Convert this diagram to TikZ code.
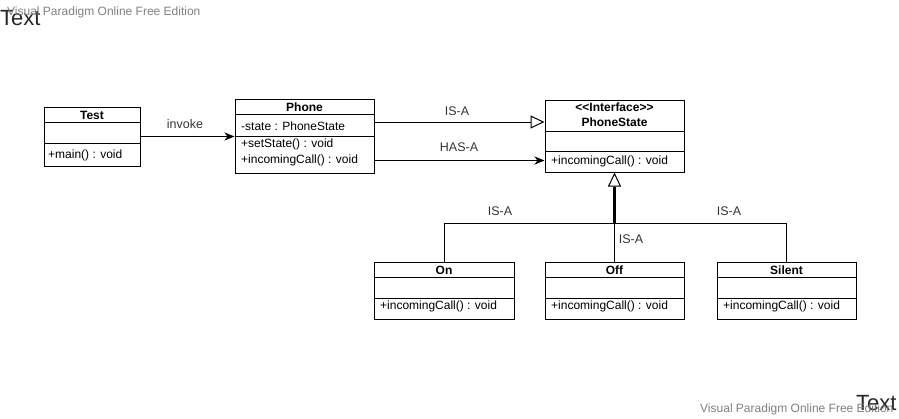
\documentclass[tikz,border=0pt]{standalone}
\usepackage{fontspec}
\setmainfont{Liberation Sans}
\usetikzlibrary{arrows.meta,positioning}
\tikzset{
  cls/.style={draw,line width=1pt,inner sep=0pt},
  sep/.style={line width=1pt},
  ttl/.style={font=\fontsize{12}{14}\selectfont\bfseries,inner sep=0pt},
  mem/.style={font=\fontsize{12}{14}\selectfont,inner sep=0pt,anchor=west},
  lbl/.style={font=\fontsize{12.5}{14}\selectfont,text=black!80,inner sep=0pt},
  wm/.style={font=\fontsize{12}{14}\selectfont,text=black!50,inner sep=0pt,anchor=west},
  bigtxt/.style={font=\fontsize{22}{26}\selectfont,text=black!85,inner sep=0pt,anchor=west},
  edge/.style={line width=1pt},
  isa/.style={-{Triangle[open,length=14pt,width=13pt,fill=white]},line width=1pt},
  hasa/.style={-{Stealth[length=10pt,width=8pt,inset=3pt]},line width=1pt},
}
\begin{document}
\begin{tikzpicture}[x=1pt,y=-1pt]
\useasboundingbox (0,0) rectangle (899,418);

% corner texts
\node[bigtxt] (txttop) at (0,18) {Text};
\node[wm] (wmtop) at (7,12) {Visual Paradigm Online Free Edition};
\node[bigtxt] (txtbot) at (856,403) {Text};
\node[wm] (wmbot) at (700,409) {Visual Paradigm Online Free Edition};

% Test
\node[cls,minimum width=96pt,minimum height=59pt] (test) at (92,136.5) {};
\draw[sep] ([yshift=-16pt]test.north west) -- ([yshift=-16pt]test.north east);
\draw[sep] ([yshift=-37pt]test.north west) -- ([yshift=-37pt]test.north east);
\node[ttl] (testname) at (92,115) {Test};
\node[mem] (testmain) at (48,155) {+main() : void};

% Phone
\node[cls,minimum width=139pt,minimum height=74pt] (phone) at (304.5,136) {};
\draw[sep] ([yshift=-16pt]phone.north west) -- ([yshift=-16pt]phone.north east);
\draw[sep] ([yshift=-38pt]phone.north west) -- ([yshift=-38pt]phone.north east);
\node[ttl] (phname) at (304.5,107) {Phone};
\node[mem] (phstate) at (241,126.5) {-state : PhoneState};
\node[mem] (phset) at (241,144) {+setState() : void};
\node[mem] (phcall) at (241,160.5) {+incomingCall() : void};

% PhoneState
\node[cls,minimum width=139pt,minimum height=72pt] (ps) at (614.5,136) {};
\draw[sep] ([yshift=-32pt]ps.north west) -- ([yshift=-32pt]ps.north east);
\draw[sep] ([yshift=-52pt]ps.north west) -- ([yshift=-52pt]ps.north east);
\node[ttl] (psstereo) at (614.5,107) {<\kern0pt<Interface>\kern0pt>};
\node[ttl] (psname) at (614.5,122) {PhoneState};
\node[mem] (pscall) at (551,161) {+incomingCall() : void};

% On
\node[cls,minimum width=140pt,minimum height=57pt] (on) at (444,290.5) {};
\draw[sep] ([yshift=-16pt]on.north west) -- ([yshift=-16pt]on.north east);
\draw[sep] ([yshift=-37pt]on.north west) -- ([yshift=-37pt]on.north east);
\node[ttl] (onname) at (444,270) {On};
\node[mem] (oncall) at (380,306.5) {+incomingCall() : void};

% Off
\node[cls,minimum width=139pt,minimum height=57pt] (off) at (614.5,290.5) {};
\draw[sep] ([yshift=-16pt]off.north west) -- ([yshift=-16pt]off.north east);
\draw[sep] ([yshift=-37pt]off.north west) -- ([yshift=-37pt]off.north east);
\node[ttl] (offname) at (614.5,270) {Off};
\node[mem] (offcall) at (551,306.5) {+incomingCall() : void};

% Silent
\node[cls,minimum width=139pt,minimum height=57pt] (silent) at (786.5,290.5) {};
\draw[sep] ([yshift=-16pt]silent.north west) -- ([yshift=-16pt]silent.north east);
\draw[sep] ([yshift=-37pt]silent.north west) -- ([yshift=-37pt]silent.north east);
\node[ttl] (silname) at (786.5,270) {Silent};
\node[mem] (silcall) at (723,306.5) {+incomingCall() : void};

% connectors
\draw[hasa] (test.east) -- (test.east -| phone.west);
\node[lbl] (invokelbl) at (185,124) {invoke};

\draw[isa] (phone.east |- psname) -- (ps.west |- psname);
\node[lbl] (isalbl) at (457,111) {IS-A};
\draw[hasa] (phone.east |- phcall) -- (ps.west |- phcall);
\node[lbl] (hasalbl) at (459,147) {HAS-A};

\coordinate (join) at (614.5,223);
\draw[line width=2.2pt] (join) -- ([yshift=-14pt]ps.south);
\draw[isa] (join) -- (ps.south);
\draw[edge] (on.north) |- (join);
\draw[edge] (off.north) -- (join);
\draw[edge] (silent.north) |- (join);
\node[lbl] (isaon) at (500,211) {IS-A};
\node[lbl] (isaoff) at (631,239) {IS-A};
\node[lbl] (isasil) at (729,211) {IS-A};
\end{tikzpicture}
\end{document}
